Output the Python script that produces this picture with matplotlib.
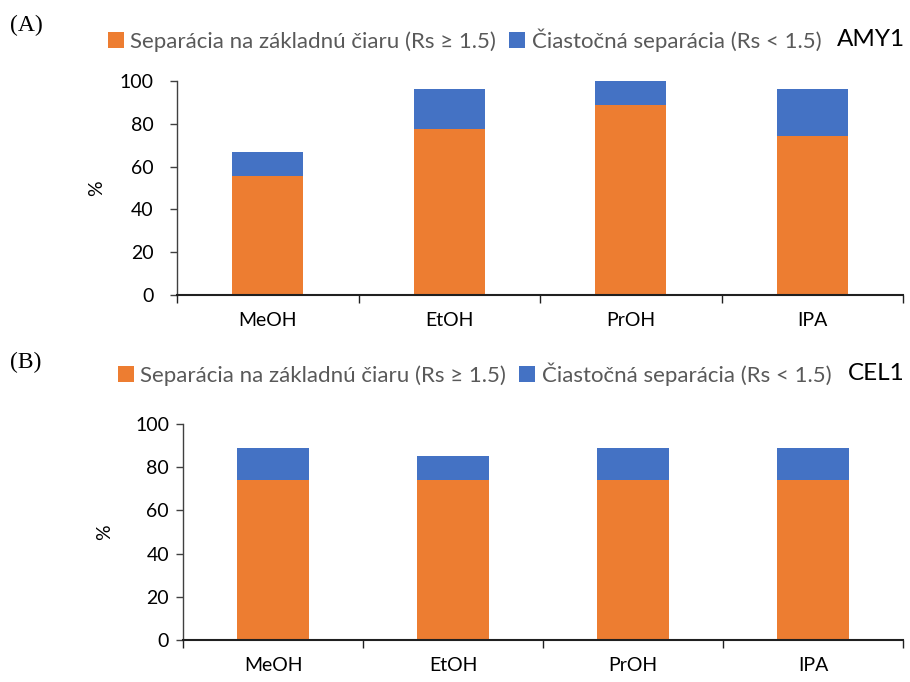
import matplotlib
matplotlib.use("Agg")
import matplotlib.pyplot as plt
import numpy as np

categories = ["MeOH", "EtOH", "PrOH", "IPA"]
amy1_baseline = [55.6, 77.8, 88.9, 74.1]
amy1_partial = [11.1, 18.5, 11.1, 22.2]
cel1_baseline = [74.1, 74.1, 74.1, 74.1]
cel1_partial = [14.8, 11.1, 14.8, 14.8]
yticks = [0, 20, 40, 60, 80, 100]
legend_labels = ["Separácia na základnú čiaru (Rs ≥ 1.5)", "Čiastočná separácia (Rs < 1.5)"]

ORANGE = "#ED7D31"
BLUE = "#4472C4"
FONT = "Lato"

W, H = 910, 682
fig = plt.figure(figsize=(W / 100, H / 100), dpi=100)


def px_axes(left, top, right, bottom):
    return fig.add_axes([left / W, 1 - bottom / H, (right - left) / W, (bottom - top) / H])


def draw(ax, base, part, width, name, panel, legend_y, panel_y, sq_x, label_pad, ylab_pad):
    x = np.arange(len(categories))
    b1 = ax.bar(x, base, width, color=ORANGE, label=legend_labels[0], zorder=2)
    b2 = ax.bar(x, part, width, bottom=base, color=BLUE, label=legend_labels[1], zorder=2)
    ax.set_xlim(-0.5, len(categories) - 0.5)
    ax.set_ylim(0, 100)
    ax.set_yticks(yticks)
    ax.set_yticklabels([str(v) for v in yticks], fontsize=14, family=FONT)
    ax.tick_params(axis="y", length=5, width=1, color="#404040", pad=label_pad)
    ax.set_xticks(np.arange(len(categories) + 1) - 0.5)
    ax.set_xticklabels([])
    ax.tick_params(axis="x", which="major", length=6, width=1, color="#202020")
    ax.set_xticks(x, minor=True)
    ax.set_xticklabels(categories, minor=True, fontsize=14, family=FONT)
    ax.tick_params(axis="x", which="minor", length=0, pad=12)
    for s in ["top", "right"]:
        ax.spines[s].set_visible(False)
    ax.spines["bottom"].set_color("#202020")
    ax.spines["bottom"].set_linewidth(1.5)
    ax.spines["left"].set_color("#404040")
    ax.spines["left"].set_linewidth(1)
    ax.set_ylabel("%", fontsize=14, family=FONT, labelpad=ylab_pad)
    leg = fig.legend(handles=[b1, b2], loc="center left",
                     bbox_to_anchor=(sq_x / W, 1 - legend_y / H), ncol=2, frameon=False,
                     handlelength=0.7, handleheight=0.7, handletextpad=0.3,
                     columnspacing=0.6, borderaxespad=0, borderpad=0,
                     prop={"family": FONT, "size": 16})
    for t in leg.get_texts():
        t.set_color("#595959")
    fig.text(905 / W, 1 - legend_y / H, name, ha="right", va="center",
             fontsize=17.5, family=FONT, color="black")
    fig.text(10 / W, 1 - panel_y / H, panel, ha="left", va="center",
             fontsize=17, family="Liberation Serif", color="black")


ax1 = px_axes(177, 81, 903, 295)
draw(ax1, amy1_baseline, amy1_partial, 0.39, "AMY1", "(A)", 40, 25, 108, 12, 10)
ax2 = px_axes(183, 424, 903, 640)
draw(ax2, cel1_baseline, cel1_partial, 0.40, "CEL1", "(B)", 374, 362, 118, 5, 16)

fig.savefig("out.png", dpi=100)
